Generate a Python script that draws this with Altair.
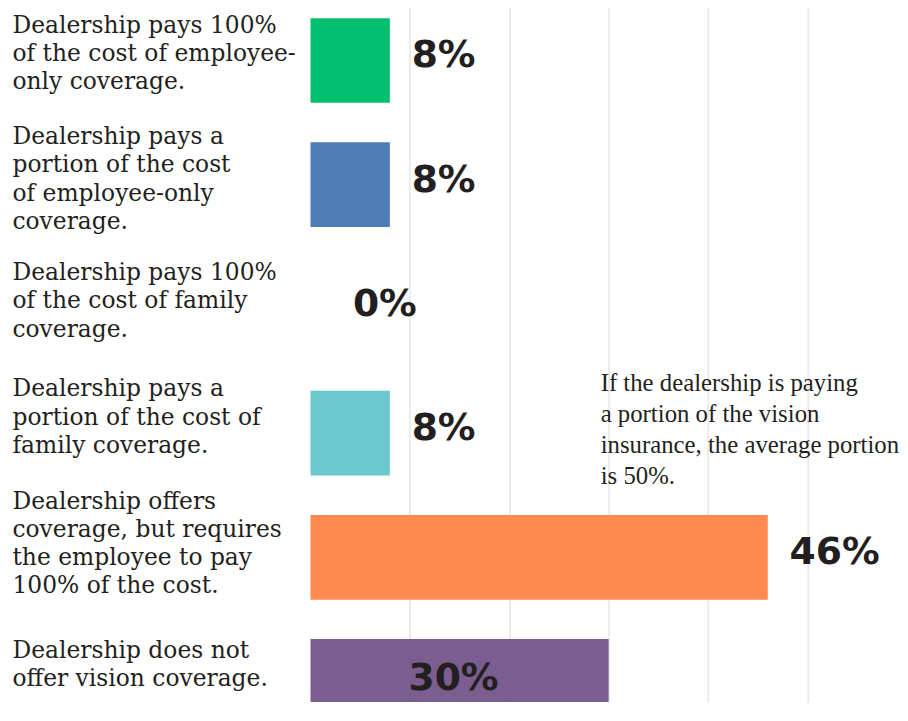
import altair as alt
import pandas as pd

categories = [
    "Dealership pays 100%\nof the cost of employee-\nonly coverage.",
    "Dealership pays a\nportion of the cost\nof employee-only\ncoverage.",
    "Dealership pays 100%\nof the cost of family\ncoverage.",
    "Dealership pays a\nportion of the cost of\nfamily coverage.",
    "Dealership offers\ncoverage, but requires\nthe employee to pay\n100% of the cost.",
    "Dealership does not\noffer vision coverage.",
]
values = [8, 8, 0, 8, 46, 30]
colors = ["#00BF6F", "#4E7CB5", "#9E9E9E", "#6CC8CC", "#FF8B50", "#7B5D8F"]
grid_values = [10, 20, 30, 40, 50]
note_lines = [
    "If the dealership is paying",
    "a portion of the vision",
    "insurance, the average portion",
    "is 50%.",
]
note_x = 29.2

df = pd.DataFrame({"category": categories, "value": values})
note_df = pd.DataFrame({"n": [0]})

TEXT = "#231f20"

# vertical nudge of each multi-line row label (first line relative to band centre)
label_nudges = [
    ("only coverage", -35),
    ("employee-only", -48),
    ("of family", -36),
    ("family coverage", -44),
    ("offers", -56),
]
label_offset = {
    "condition": [
        {"test": f"indexof(datum.value, '{key}') >= 0", "value": off}
        for key, off in label_nudges
    ],
    "value": -31,
}

y_enc = alt.Y(
    "category:N",
    sort=categories,
    scale=alt.Scale(domain=categories, range=[0, 724], paddingInner=0.318, paddingOuter=0.048),
    axis=alt.Axis(
        title=None,
        labelExpr="split(datum.label, '\\n')",
        labelAlign="left",
        labelBaseline="middle",
        labelPadding=301,
        labelLimit=0,
        labelFont="DejaVu Serif",
        labelFontSize=23.6,
        labelLineHeight=28.5,
        labelColor=TEXT,
        labelOffset=label_offset,
        ticks=False,
        tickSize=0,
        domain=False,
        grid=False,
    ),
)

x_scale = alt.Scale(domain=[0, 59], nice=False)
x_axis = alt.Axis(
    title=None,
    values=grid_values,
    labels=False,
    ticks=False,
    domain=False,
    grid=True,
    gridColor="#ebebeb",
    gridWidth=2,
)

bars = alt.Chart(df).mark_bar(clip=True).encode(
    x=alt.X("value:Q", scale=x_scale, axis=x_axis),
    y=y_enc,
    color=alt.Color("category:N", scale=alt.Scale(domain=categories, range=colors), legend=None),
)

label_style = dict(font="DejaVu Sans", fontWeight="bold", fontSize=38, color=TEXT, baseline="middle")

outside = (
    alt.Chart(df)
    .transform_filter(alt.FieldOneOfPredicate(field="category", oneOf=categories[:5]))
    .transform_filter(alt.FieldGTPredicate(field="value", gt=0))
    .transform_calculate(lbl="datum.value + '%'")
    .mark_text(align="left", dx=22, dy=-4, **label_style)
    .encode(x=alt.X("value:Q", scale=x_scale), y=alt.Y("category:N", sort=categories), text="lbl:N")
)

zero = (
    alt.Chart(df)
    .transform_filter(alt.FieldEqualPredicate(field="value", equal=0))
    .transform_calculate(lbl="datum.value + '%'")
    .mark_text(align="left", dx=43, dy=-4, **label_style)
    .encode(x=alt.X("value:Q", scale=x_scale), y=alt.Y("category:N", sort=categories), text="lbl:N")
)

inside = (
    alt.Chart(df)
    .transform_filter(alt.FieldEqualPredicate(field="category", equal=categories[5]))
    .transform_calculate(lbl="datum.value + '%'", mid="datum.value / 2")
    .mark_text(align="center", dx=-6, dy=-2, **label_style)
    .encode(x=alt.X("mid:Q", scale=x_scale), y=alt.Y("category:N", sort=categories), text="lbl:N")
)

note = (
    alt.Chart(note_df)
    .mark_text(
        text=note_lines,
        align="left",
        baseline="top",
        font="Liberation Serif",
        fontSize=25,
        lineHeight=31,
        color=TEXT,
        dy=-62,
    )
    .encode(x=alt.datum(note_x), y=alt.datum(categories[3]))
)

chart = (
    alt.layer(bars, outside, zero, inside, note)
    .properties(width=592, height=696, padding={"left": 4, "top": 1, "right": 0, "bottom": 0})
    .configure_view(stroke=None)
)

chart.save("out.html", embed_options={"renderer": "svg", "actions": False})
